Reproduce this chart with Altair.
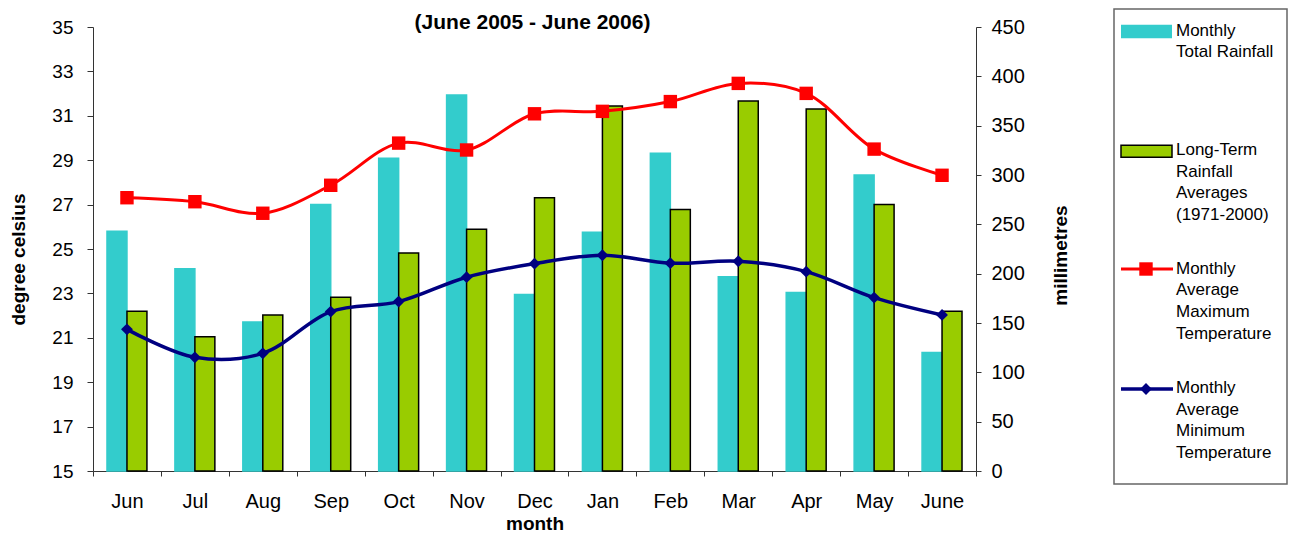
import altair as alt
import pandas as pd

months = ["Jun", "Jul", "Aug", "Sep", "Oct", "Nov", "Dec", "Jan", "Feb", "Mar", "Apr", "May", "June"]
monthly_rain = [243, 205, 151, 270, 317, 381, 179, 242, 322, 197, 181, 300, 120]
longterm_rain = [162, 136, 158, 176, 221, 245, 277, 370, 265, 375, 367, 270, 162]
tmax = [27.31, 27.13, 26.61, 27.87, 29.77, 29.46, 31.09, 31.2, 31.64, 32.46, 32.01, 29.5, 28.32]
tmin = [21.38, 20.12, 20.3, 22.18, 22.63, 23.73, 24.34, 24.72, 24.36, 24.45, 23.98, 22.81, 22.03]

temp_ticks = list(range(15, 36, 2))
mm_ticks = list(range(0, 451, 50))

FONT = "Liberation Sans"
CYAN = "#33CCCC"
GREEN = "#99CC00"
RED = "#FF0000"
NAVY = "#000080"
AXC = "#333333"

W, H = 883, 444

df = pd.DataFrame({
    "month": months,
    "rain": monthly_rain,
    "longterm": longterm_rain,
    "tmax": tmax,
    "tmin": tmin,
})

xscale = alt.Scale(type="band", paddingInner=0, paddingOuter=0)
xaxis = alt.Axis(
    title="month", tickBand="extent", labelAngle=0, labelFontSize=20,
    labelPadding=15, tickSize=5, titleFontSize=19, titleFontWeight="bold",
    titleX=W / 2, titleY=58, titleBaseline="alphabetic",
)

bars = alt.Chart(df).transform_fold(
    ["rain", "longterm"], as_=["series", "mm"]
).mark_bar(strokeWidth=1.5).encode(
    x=alt.X("month:N", sort=months, scale=xscale, axis=xaxis),
    xOffset=alt.XOffset(
        "series:N", sort=["rain", "longterm"],
        scale=alt.Scale(domain=["rain", "longterm"], paddingInner=0, paddingOuter=0.7),
    ),
    y=alt.Y(
        "mm:Q", scale=alt.Scale(domain=[0, 450], nice=False),
        axis=alt.Axis(
            orient="right", values=mm_ticks, title="millimetres", grid=False,
            labelFontSize=20, tickSize=5, labelPadding=10,
            titleFontSize=19, titleFontWeight="bold", titleAngle=270,
            titleX=84, titleY=228, titleBaseline="middle",
        ),
    ),
    color=alt.Color("series:N", scale=alt.Scale(domain=["rain", "longterm"], range=[CYAN, GREEN]), legend=None),
    stroke=alt.Stroke("series:N", scale=alt.Scale(domain=["rain", "longterm"], range=[CYAN, "#000000"]), legend=None),
)

taxis = alt.Axis(
    values=temp_ticks, title="degree celsius", grid=False, orient="left",
    labelFontSize=19, tickSize=6, labelPadding=14,
    titleFontSize=19, titleFontWeight="bold", titleAngle=270,
    titleX=-75, titleY=232, titleBaseline="middle",
)
tscale = alt.Scale(domain=[15, 35], nice=False)

base_t = alt.Chart(df).encode(x=alt.X("month:N", sort=months, scale=xscale, axis=xaxis))

tmax_line = base_t.mark_line(color=RED, strokeWidth=3, interpolate="catmull-rom").encode(
    y=alt.Y("tmax:Q", scale=tscale, axis=taxis))
tmax_pts = base_t.mark_point(shape="square", filled=True, size=180, color=RED, opacity=1).encode(
    y=alt.Y("tmax:Q", scale=tscale, axis=taxis))
tmin_line = base_t.mark_line(color=NAVY, strokeWidth=3.5, interpolate="catmull-rom").encode(
    y=alt.Y("tmin:Q", scale=tscale, axis=taxis))
tmin_pts = base_t.mark_point(shape="diamond", filled=True, size=140, color=NAVY, opacity=1).encode(
    y=alt.Y("tmin:Q", scale=tscale, axis=taxis))

temps = alt.layer(tmax_line, tmax_pts, tmin_line, tmin_pts)

# ---- title and legend (decoration) ----
one = pd.DataFrame({"k": [0]})
deco = alt.Chart(one)

title = deco.mark_text(
    text="(June 2005 - June 2006)", font=FONT, fontSize=21, fontWeight="bold",
    align="center", baseline="alphabetic", color="#000000",
).encode(x=alt.value(439.5), y=alt.value(2))

LX0, LX1 = 1028, 1080
TX = 1083
LH = 21.7
box = deco.mark_rect(fillOpacity=0, stroke="#666666", strokeWidth=1.5).encode(
    x=alt.value(1021), x2=alt.value(1194), y=alt.value(-18), y2=alt.value(457))
leg_cyan = deco.mark_rect(color=CYAN).encode(
    x=alt.value(LX0), x2=alt.value(LX0 + 51), y=alt.value(-2.3), y2=alt.value(11.3))
leg_green = deco.mark_rect(fill=GREEN, stroke="#000000", strokeWidth=1.5).encode(
    x=alt.value(LX0), x2=alt.value(LX0 + 51), y=alt.value(118.3), y2=alt.value(130.3))
leg_red = deco.mark_rule(color=RED, strokeWidth=3).encode(
    x=alt.value(LX0), x2=alt.value(LX1), y=alt.value(242))
leg_red_pt = deco.mark_point(shape="square", filled=True, size=180, color=RED, opacity=1).encode(
    x=alt.value(1053), y=alt.value(242))
leg_navy = deco.mark_rule(color=NAVY, strokeWidth=3.5).encode(
    x=alt.value(LX0), x2=alt.value(LX1), y=alt.value(362))
leg_navy_pt = deco.mark_point(shape="diamond", filled=True, size=140, color=NAVY, opacity=1).encode(
    x=alt.value(1053), y=alt.value(362))


def leg_text(txt, first_y):
    return deco.mark_text(
        text=txt, font=FONT, fontSize=17, align="left", baseline="middle",
        lineBreak="\n", lineHeight=LH, color="#000000",
    ).encode(x=alt.value(TX), y=alt.value(first_y))


t1 = leg_text("Monthly\nTotal Rainfall", 3.7)
t2 = leg_text("Long-Term\nRainfall\nAverages\n(1971-2000)", 123)
t3 = leg_text("Monthly\nAverage\nMaximum\nTemperature", 241.5)
t4 = leg_text("Monthly\nAverage\nMinimum\nTemperature", 361)

chart = alt.layer(
    bars, temps, title, box, leg_cyan, leg_green, leg_red, leg_red_pt,
    leg_navy, leg_navy_pt, t1, t2, t3, t4,
).resolve_scale(y="independent").properties(
    width=W, height=H,
    autosize=alt.AutoSizeParams(type="none"),
    padding={"left": 85, "top": 19, "right": 313, "bottom": 62},
).configure_view(stroke=None).configure_axis(
    labelFont=FONT, titleFont=FONT, labelColor="#000000", titleColor="#000000",
    domainColor=AXC, tickColor=AXC, domainWidth=1, tickWidth=1,
)

chart.save("out.html", embed_options={"renderer": "svg", "actions": False})
